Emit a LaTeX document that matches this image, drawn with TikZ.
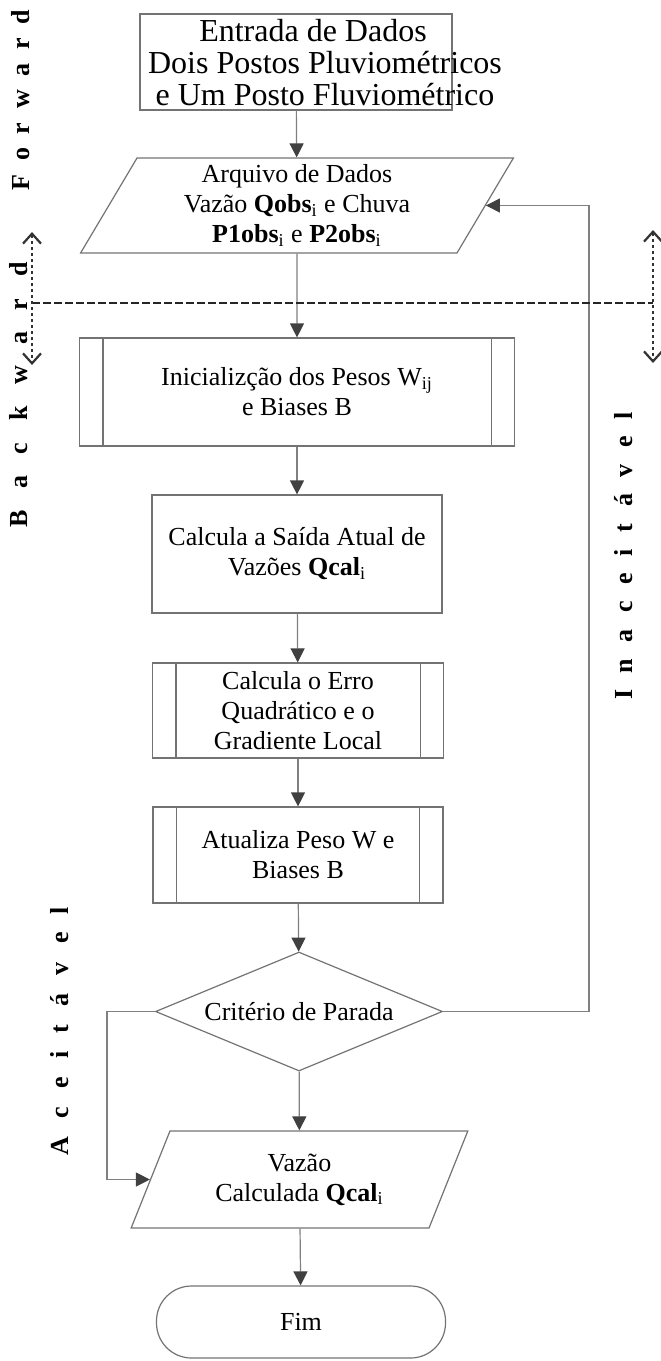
\documentclass[tikz,border=0pt]{standalone}
\usepackage{xcolor}
\usepackage{fontspec}
\setmainfont{Liberation Serif}
\usepackage{tikz}
\usetikzlibrary{shapes.geometric,arrows.meta}

\begin{document}
\begin{tikzpicture}[
				x=0.5pt, y=-0.5pt,
				caixa/.style={
					rectangle,
					draw=black!55,
					line width=0.6pt,
					inner sep=0pt,
					align=center,
					font=\fontsize{13}{15}\selectfont
				},
				dados/.style={
					caixa,
					trapezium,
					trapezium left angle=64,
					trapezium right angle=116,
					trapezium stretches=true
				},
				decisao/.style={
					caixa,
					diamond,
					aspect=2.4
				},
				terminal/.style={
					caixa,
					rounded corners=17.5pt
				},
				linha/.style={
					draw=black!55,
					line width=0.6pt
				},
				edge/.style={
					draw=black!50,
					line width=0.6pt,
					-{Triangle[length=7pt,width=7pt,color=black!75]}
				},
				separa/.style={
					draw=black!85,
					line width=0.7pt,
					dash pattern=on 4pt off 1.5pt
				},
				vaivem/.style={
					draw=black!80,
					line width=0.6pt,
					dash pattern=on 1.5pt off 1.5pt,
					{Straight Barb[length=5pt,width=9pt,line width=1.1pt]}-{Straight Barb[length=5pt,width=9pt,line width=1.1pt]}
				},
				rotulo/.style={
					rotate=90,
					inner sep=0pt,
					font=\fontsize{13}{14}\selectfont\bfseries\addfontfeature{LetterSpace=#1}
				}
			]

				\useasboundingbox (0,0) rectangle (660,1361);

				\node[caixa, minimum width=156pt, minimum height=48pt] (titulo) at (296,62) {};
				\node[align=center, inner sep=0pt, font=\fontsize{16}{16}\selectfont] (entrada) at (325,63)
					{Entrada de Dados\hspace*{12pt}\\Dois Postos Pluviométricos\\e Um Posto Fluviométrico};

				\node[dados, minimum width=216.5pt, minimum height=47.5pt] (arquivo) at (297,205.5)
					{Arquivo de Dados\\Vazão \textbf{Qobs}\textsubscript{i} e Chuva\\\textbf{P1obs}\textsubscript{i} e \textbf{P2obs}\textsubscript{i}};
				\node[caixa, minimum width=217.5pt, minimum height=54pt] (inicial) at (297,392)
					{Inicializção dos Pesos W\textsubscript{ij}\\e Biases B};
				\node[caixa, minimum width=145pt, minimum height=59pt] (saida) at (297,554)
					{Calcula a Saída Atual de\\Vazões \textbf{Qcal}\textsubscript{i}};
				\node[caixa, minimum width=145.5pt, minimum height=47.5pt] (erro) at (298,710.5)
					{Calcula o Erro\\Quadrático e o\\Gradiente Local};
				\node[caixa, minimum width=145pt, minimum height=48pt] (atualiza) at (298,855)
					{Atualiza Peso W e\\Biases B};
				\node[decisao, minimum width=143.5pt, minimum height=59.5pt] (criterio) at (299,1011.5)
					{Critério de Parada};
				\node[dados, minimum width=168.5pt, minimum height=48.5pt] (vazao) at (299.5,1179.5)
					{Vazão\\Calculada \textbf{Qcal}\textsubscript{i}};
				\node[terminal, minimum width=144.5pt, minimum height=36pt] (fim) at (301,1322) {Fim};

				\foreach \n in {inicial,erro,atualiza} {
					\draw[linha] ([xshift=12pt]\n.north west) -- ([xshift=12pt]\n.south west);
					\draw[linha] ([xshift=-12pt]\n.north east) -- ([xshift=-12pt]\n.south east);
				}

				\draw[edge] (titulo) -- (arquivo);
				\draw[edge] (arquivo) -- (inicial);
				\draw[edge] (inicial) -- (saida);
				\draw[edge] (saida) -- (erro);
				\draw[edge] (erro) -- (atualiza);
				\draw[edge] (atualiza) -- (criterio);
				\draw[edge] (criterio) -- (vazao);
				\draw[edge] (vazao) -- (fim);

				\coordinate (inaceita) at (589,1011.5);
				\coordinate (aceita) at (107,1011.5);
				\draw[edge] (criterio.east) -- (inaceita) |- (arquivo.east);
				\draw[edge] (criterio.west) -- (aceita) |- (vazao.west);

				\coordinate (sepE) at (32,303);
				\coordinate (sepD) at (653,303);
				\coordinate (voltaE) at (32,232);
				\coordinate (idaE) at (32,365);
				\coordinate (voltaD) at (653,230);
				\coordinate (idaD) at (653,363);
				\draw[separa] (sepE) -- (sepD);
				\draw[vaivem] (voltaE) -- (idaE);
				\draw[vaivem] (voltaD) -- (idaD);

				\node[rotulo=53] (forward) at (21,100) {Forward};
				\node[rotulo=83] (backward) at (19,395) {Backward};
				\node[rotulo=64] (inaceitavel) at (624,556) {Inaceitável};
				\node[rotulo=70] (aceitavel) at (60,1031) {Aceitável};

			\end{tikzpicture}
\end{document}
